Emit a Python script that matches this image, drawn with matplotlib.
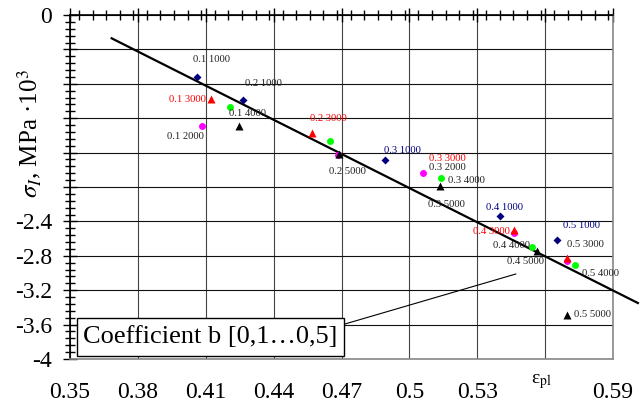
import matplotlib
matplotlib.use('Agg')
import numpy as np
import matplotlib.pyplot as plt
from matplotlib.ticker import MultipleLocator
from matplotlib.patches import Rectangle

plt.rcParams['font.family'] = ['Liberation Serif', 'DejaVu Serif']
plt.rcParams['mathtext.fontset'] = 'stix'

# Axis ticks and labels
x_ticks = [0.35, 0.38, 0.41, 0.44, 0.47, 0.50, 0.53, 0.56, 0.59]
x_tick_labels = ['0.35', '0.38', '0.41', '0.44', '0.47', '0.5', '0.53', '', '0.59']
y_ticks = [0.0, -0.4, -0.8, -1.2, -1.6, -2.0, -2.4, -2.8, -3.2, -3.6, -4.0]
y_tick_labels = ['0', '', '', '', '', '', '-2.4', '-2.8', '-3.2', '-3.6', '-4']

# Coefficient b = 0.1 ... 0.5, one list per load level
b_values = [0.1, 0.2, 0.3, 0.4, 0.5]

eps_1000 = [0.4061, 0.4264, 0.4892, 0.5400, 0.5652]
sig_1000 = [-0.721, -0.988, -1.686, -2.337, -2.616]

eps_2000 = [0.4083, 0.4684, 0.5060, 0.5462, 0.5696]
sig_2000 = [-1.291, -1.625, -1.837, -2.535, -2.860]

eps_3000 = [0.4123, 0.4569, np.nan, 0.5462, 0.5696]
sig_3000 = [-0.977, -1.372, np.nan, -2.500, -2.826]

eps_4000 = [0.4207, 0.4649, 0.5139, 0.5541, 0.5731]
sig_4000 = [-1.070, -1.465, -1.895, -2.698, -2.907]

eps_5000 = [0.4247, 0.4688, 0.5135, 0.5563, 0.5696]
sig_5000 = [-1.291, -1.616, -1.988, -2.744, -3.488]

# Trend line
eps_fit = [0.3684, 0.6010]
sig_fit = [-0.271, -3.349]

# Point labels (text, label position)
label_text = ['0.1 1000', '0.2 1000', '0.1 3000', '0.1 4000', '0.1 2000',
              '0.2 3000', '0.2 5000', '0.3 1000', '0.3 3000', '0.3 2000',
              '0.3 4000', '0.3 5000', '0.4 1000', '0.4 3000', '0.4 4000',
              '0.4 5000', '0.5 1000', '0.5 3000', '0.5 4000', '0.5 5000']
label_eps = [0.4127, 0.4353, 0.4021, 0.4286, 0.4012,
             0.4644, 0.4728, 0.4971, 0.5166, 0.5166,
             0.5250, 0.5166, 0.5422, 0.5364, 0.5453,
             0.5515, 0.5762, 0.5780, 0.5846, 0.5811]
label_sig = [-0.512, -0.802, -0.988, -1.151, -1.407,
             -1.209, -1.814, -1.581, -1.663, -1.779,
             -1.930, -2.198, -2.233, -2.512, -2.686,
             -2.872, -2.453, -2.663, -3.000, -3.488]
label_color = ['#222222', '#222222', '#ff0000', '#222222', '#222222',
               '#ff0000', '#222222', '#000080', '#ff0000', '#222222',
               '#222222', '#222222', '#000080', '#ff0000', '#222222',
               '#222222', '#000080', '#222222', '#222222', '#222222']

fig = plt.figure(figsize=(6.41, 4.05), dpi=100)
ax = fig.add_axes([70 / 641, 1 - 359 / 405, 543 / 641, 344 / 405])

ax.set_xlim(0.35, 0.59)
ax.set_ylim(-4.0, 0.0)

# grid
ax.set_xticks(x_ticks)
ax.set_xticklabels(x_tick_labels, fontsize=17)
ax.set_yticks(y_ticks)
ax.set_yticklabels(y_tick_labels, fontsize=17)
ax.xaxis.set_minor_locator(MultipleLocator(0.006))
ax.yaxis.set_minor_locator(MultipleLocator(0.08))
ax.xaxis.grid(True, which='major', color='#444444', linewidth=0.8)
ax.yaxis.grid(True, which='major', color='#111111', linewidth=0.8)
ax.set_axisbelow(True)

ax.tick_params(axis='x', which='both', top=True, bottom=False,
               labeltop=False, labelbottom=True, direction='inout')
ax.tick_params(axis='x', which='major', length=10, width=1, pad=11.5)
ax.tick_params(axis='x', which='minor', length=7.5, width=1)
ax.tick_params(axis='y', which='both', left=True, right=False, direction='inout')
ax.tick_params(axis='y', which='major', length=10, width=1, pad=8)
ax.tick_params(axis='y', which='minor', length=7, width=1)

ax.spines['top'].set_color('black')
ax.spines['top'].set_linewidth(1.2)
ax.spines['left'].set_color('black')
ax.spines['left'].set_linewidth(1.2)
ax.spines['right'].set_color('#888888')
ax.spines['right'].set_linewidth(1.2)
ax.spines['bottom'].set_color('#888888')
ax.spines['bottom'].set_linewidth(1.2)

# trend line
ax.plot(eps_fit, sig_fit, color='black', linewidth=1.6, clip_on=False, zorder=3)

# points per load level
ax.plot(eps_1000, sig_1000, linestyle='none', marker='D', ms=3.8,
        color='#000080', mec='none', zorder=4)
ax.plot(eps_2000, sig_2000, linestyle='none', marker='o', ms=5,
        color='#ff00ff', mec='none', zorder=4)
ax.plot(eps_3000, sig_3000, linestyle='none', marker='^', ms=5.2,
        color='#ff0000', mec='none', zorder=4)
ax.plot(eps_4000, sig_4000, linestyle='none', marker='o', ms=5,
        color='#00ff00', mec='none', zorder=4)
ax.plot(eps_5000, sig_5000, linestyle='none', marker='^', ms=5.2,
        color='black', mec='none', zorder=4)

for t, xx, yy, c in zip(label_text, label_eps, label_sig, label_color):
    ax.text(xx, yy, t, fontsize=7.7, color=c, ha='center', va='center', zorder=5)

# leader line from the note box
ax.plot([0.4715, 0.5470], [-3.593, -3.012], color='black', linewidth=0.8,
        zorder=3)

# note box
box = Rectangle((77 / 641, 1 - 356 / 405), 267 / 641, 38 / 405,
                transform=fig.transFigure, facecolor='white',
                edgecolor='black', linewidth=1.0, zorder=10)
fig.patches.append(box)
fig.text(210 / 641, 1 - 337 / 405, 'Coefficient b [0,1\u20260,5]',
         fontsize=19, ha='center', va='center', zorder=11)

# axis titles
fig.text(29 / 641, 1 - 134 / 405, '$\\sigma_I$, MPa \u00b710$^3$',
         fontsize=18, rotation=90, ha='center', va='center')
fig.text(541 / 641, 1 - 382 / 405, 'ε$_{\\rm pl}$', fontsize=14,
         ha='center', va='center')

fig.savefig('out.png', dpi=100)
